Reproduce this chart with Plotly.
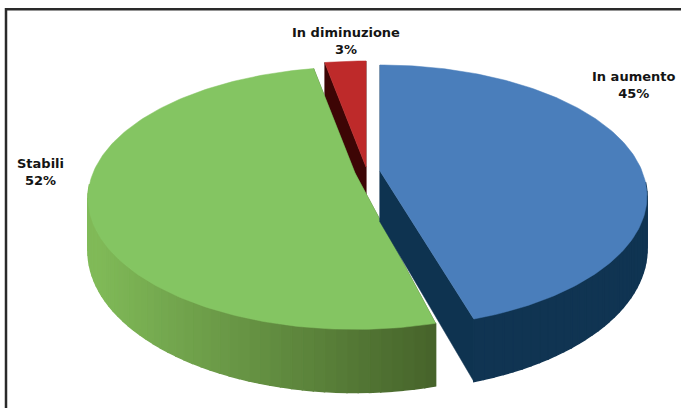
import math
import plotly.graph_objects as go

# ---- data ----
labels = ["In aumento", "Stabili", "In diminuzione"]
values = [45, 52, 3]
top_colors = ["#4A7EBB", "#84C562", "#BE2A2A"]
cut_colors = ["#0E3350", "#46632A", "#3D0505"]
side_left = ["#113655", "#80BA58", "#3D0505"]
side_right = ["#0E3350", "#46632A", "#3D0505"]
# per-slice screen centre (exploded pie) and angle trims
centers = [(380, 171), (355, 173), (366, 167)]
start_trim = [0, 3.5, 0]
end_trim = [1.0, 0, 0]
draw_order = [2, 1, 0]

R, A, B, DEPTH = 262, 126.4, 0.192, 51


def proj(c, theta_deg, lower=False):
    t = math.radians(theta_deg)
    u, v = math.sin(t), -math.cos(t)
    s = 1 / (1 - B * v)
    x = c[0] + R * u * s
    y = c[1] + A * v * s + (DEPTH * s if lower else 0)
    return x, y


def hex_mix(a, b, f):
    ca = [int(a[i:i + 2], 16) for i in (1, 3, 5)]
    cb = [int(b[i:i + 2], 16) for i in (1, 3, 5)]
    return "#%02X%02X%02X" % tuple(round(p + (q - p) * f) for p, q in zip(ca, cb))


fig = go.Figure()


def poly(pts, color, lw=0.5):
    xs = [p[0] for p in pts] + [pts[0][0]]
    ys = [p[1] for p in pts] + [pts[0][1]]
    fig.add_trace(go.Scatter(x=xs, y=ys, mode="lines", fill="toself", fillcolor=color,
                             line=dict(color=color, width=lw), hoverinfo="skip", showlegend=False))


total = sum(values)
starts = []
acc = 0
for val in values:
    starts.append(acc)
    acc += val * 360 / total

for i in draw_order:
    c = centers[i]
    a0 = starts[i] + start_trim[i]
    a1 = starts[i] + values[i] * 360 / total + end_trim[i]
    # inner cut faces
    for ang in (a0, a1):
        p = proj(c, ang)
        q = proj(c, ang, True)
        poly([c, p, q, (c[0], c[1] + DEPTH)], cut_colors[i])
    # outer wall, shaded bands across the visible front
    lo, hi = max(a0, 95), min(a1, 265)
    if hi > lo:
        n = int((hi - lo) / 2) + 1
        for k in range(n):
            t0 = lo + (hi - lo) * k / n
            t1 = lo + (hi - lo) * (k + 1) / n
            x_mid = proj(c, (t0 + t1) / 2)[0]
            f = min(max((x_mid - 95) / 340, 0), 1) if i == 1 else 0.5
            col = hex_mix(side_left[i], side_right[i], f)
            poly([proj(c, t0), proj(c, t1), proj(c, t1, True), proj(c, t0, True)], col, lw=1.5)
    # top face
    n = max(int(a1 - a0), 2)
    arc = [proj(c, a0 + (a1 - a0) * k / n) for k in range(n + 1)]
    poly([c] + arc, top_colors[i])

# data labels
label_pos = [(633.5, 85), (40, 171.5), (345.5, 41)]
for lab, val, (x, y) in zip(labels, values, label_pos):
    fig.add_annotation(x=x, y=y, xref="x", yref="y", text=f"<b>{lab}<br>{val}%</b>", showarrow=False,
                       font=dict(family="DejaVu Sans", size=13, color="#141414"), align="center")

# frame: only the top and left edges are inside the picture
fig.add_shape(type="line", x0=5, y0=9.2, x1=681, y1=9.2, line=dict(color="#2A2A2A", width=2.5), layer="below")
fig.add_shape(type="line", x0=6, y0=8, x1=6, y1=408, line=dict(color="#2A2A2A", width=2.5), layer="below")

fig.update_layout(
    width=681, height=408, margin=dict(l=0, r=0, t=0, b=0), autosize=False,
    paper_bgcolor="white", plot_bgcolor="white", showlegend=False,
    xaxis=dict(range=[0, 681], visible=False, fixedrange=True),
    yaxis=dict(range=[408, 0], visible=False, fixedrange=True),
)
fig.write_html("out.html", config={"displayModeBar": False},
               post_script="document.body.style.margin='0';document.body.style.overflow='hidden';")
